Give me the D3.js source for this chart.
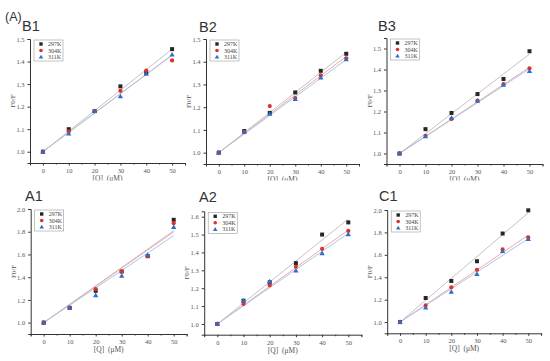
<!DOCTYPE html>
<html><head><meta charset="utf-8">
<script src="https://cdn.jsdelivr.net/npm/d3@7"></script>
<style>body{margin:0;background:#fff}svg{display:block}</style>
</head><body>
<svg id="c" width="550" height="361"></svg>
<script>
const concs = [0, 10, 20, 30, 40, 50];
const temps = ["297K", "304K", "311K"];
const xTicks = [0, 10, 20, 30, 40, 50];

const B1 = [[1.0,1.10,1.18,1.29,1.35,1.455],[1.0,1.09,1.18,1.27,1.36,1.405],[1.0,1.08,1.18,1.245,1.345,1.43]];
const B2 = [[1.0,1.095,1.175,1.265,1.36,1.435],[1.0,1.09,1.205,1.24,1.34,1.415],[1.0,1.09,1.17,1.235,1.33,1.41]];
const B3 = [[1.0,1.116,1.193,1.283,1.355,1.487],[1.0,1.084,1.164,1.252,1.33,1.406],[1.0,1.081,1.169,1.25,1.327,1.392]];
const A1 = [[1.0,1.13,1.28,1.45,1.585,1.905],[1.0,1.13,1.295,1.45,1.585,1.875],[1.0,1.13,1.24,1.41,1.595,1.84]];
const A2 = [[1.0,1.13,1.233,1.34,1.50,1.568],[1.0,1.112,1.216,1.32,1.42,1.52],[1.0,1.13,1.238,1.298,1.395,1.50]];
const C1 = [[1.0,1.215,1.367,1.543,1.79,1.997],[1.0,1.149,1.31,1.466,1.648,1.755],[1.0,1.128,1.269,1.427,1.633,1.74]];

const yTicksB = [1.0,1.1,1.2,1.3,1.4,1.5];
const yTicksA1 = [1.0,1.2,1.4,1.6,1.8,2.0];
const yTicksA2 = [1.0,1.1,1.2,1.3,1.4,1.5,1.6];

const panels = [
  {name:"B1", data:B1, yd:[0.95,1.5], yt:yTicksB, xr:[30,185], yr:[163,39], title:[22,31]},
  {name:"B2", data:B2, yd:[0.95,1.5], yt:yTicksB, xr:[206,359], yr:[164,39], title:[199,32]},
  {name:"B3", data:B3, yd:[0.95,1.55], yt:yTicksB, xr:[386.5,542.5], yr:[164,38], title:[378,31]},
  {name:"A1", data:A1, yd:[0.9,2.0], yt:yTicksA1, xr:[30.7,186.7], yr:[334,209], title:[25,201]},
  {name:"A2", data:A2, yd:[0.94,1.63], yt:yTicksA2, xr:[204.2,361.4], yr:[334.7,211.3], title:[199,202]},
  {name:"C1", data:C1, yd:[0.9,2.0], yt:yTicksA1, xr:[387.2,541.1], yr:[333.3,210], title:[379,201]}
];

const mColor = ["#262626","#e0302c","#2a6fc9"];
const lColor = ["#c4c4c4","#f2a8a8","#a9c6ec"];
const serif = "'Liberation Serif','DejaVu Serif',serif";
const sans = "'Liberation Sans','DejaVu Sans',sans-serif";

const svg = d3.select("#c");

function drawPanel(p, i){
  const g = svg.append("g");
  const x = d3.scaleLinear().domain([-5,55]).range(p.xr);
  const y = d3.scaleLinear().domain(p.yd).range(p.yr);

  // fit lines (Stern-Volmer, through 1 at 0)
  p.data.forEach((s, k) => {
    const num = d3.sum(concs, (c,j) => c*(s[j]-1));
    const den = d3.sum(concs, c => c*c);
    const K = num/den;
    g.append("line")
      .attr("x1", x(0)).attr("y1", y(1))
      .attr("x2", x(50)).attr("y2", y(1+K*50))
      .attr("stroke", lColor[k]).attr("stroke-width", 1);
  });

  // axes
  const xa = g.append("g").attr("transform", `translate(0,${p.yr[0]})`)
    .call(d3.axisBottom(x).tickValues(xTicks).tickSize(2.5).tickPadding(3).tickFormat(d3.format("d")));
  g.append("g").attr("transform", `translate(0,${p.yr[0]})`)
    .call(d3.axisBottom(x).tickValues([-5,5,15,25,35,45,55]).tickSize(1.5).tickFormat(""))
    .call(a => a.select(".domain").remove());
  const ya = g.append("g").attr("transform", `translate(${p.xr[0]},0)`)
    .call(d3.axisLeft(y).tickValues(p.yt).tickSize(2.5).tickPadding(3).tickFormat(d3.format(".1f")));
  g.selectAll(".domain").attr("stroke","#333").attr("stroke-width",1);
  g.selectAll(".tick line").attr("stroke","#333");
  [xa, ya].forEach(a => a.selectAll("text").attr("font-family", serif).attr("font-size", 6.5).attr("fill","#555"));

  // markers
  p.data.forEach((s, k) => {
    const mg = g.append("g");
    s.forEach((v, j) => {
      const cx = x(concs[j]), cy = y(v);
      if (k === 0) mg.append("rect").attr("x", cx-2).attr("y", cy-2).attr("width",4).attr("height",4).attr("fill", mColor[0]);
      else if (k === 1) mg.append("circle").attr("cx", cx).attr("cy", cy).attr("r", 2.1).attr("fill", mColor[1]);
      else mg.append("path").attr("d", d3.symbol(d3.symbolTriangle, 12)()).attr("transform", `translate(${cx},${cy+0.3})`).attr("fill", mColor[2]);
    });
  });

  // legend
  const lx = p.xr[0]+4, ly = p.yr[1]+1;
  const lg = g.append("g").attr("transform", `translate(${lx},${ly})`);
  lg.append("rect").attr("width", 29).attr("height", 21).attr("fill","#fff").attr("stroke","#999").attr("stroke-width",0.6);
  temps.forEach((t, k) => {
    const yy = 4 + k*6.5;
    const mx = 7;
    if (k === 0) lg.append("rect").attr("x", mx-1.7).attr("y", yy-1.7).attr("width",3.4).attr("height",3.4).attr("fill", mColor[0]);
    else if (k === 1) lg.append("circle").attr("cx", mx).attr("cy", yy).attr("r", 1.8).attr("fill", mColor[1]);
    else lg.append("path").attr("d", d3.symbol(d3.symbolTriangle, 9)()).attr("transform", `translate(${mx},${yy+0.3})`).attr("fill", mColor[2]);
    lg.append("text").attr("x", 14).attr("y", yy+2).text(t)
      .attr("font-family", serif).attr("font-size", 6).attr("fill","#444");
  });

  // axis labels
  g.append("text").attr("transform", `translate(${p.xr[0]-15},${(p.yr[0]+p.yr[1])/2}) rotate(-90)`)
    .attr("text-anchor","middle").attr("font-family", serif).attr("font-size", 7).attr("fill","#555").text("F0/F");
  g.append("text").attr("x", (x(0)+x(50))/2).attr("y", p.yr[0]+18)
    .attr("text-anchor","middle").attr("font-family", serif).attr("font-size", 7.5).attr("fill","#555")
    .text("[Q]\u00a0\u00a0(μM)");

  // title
  g.append("text").attr("x", p.title[0]).attr("y", p.title[1]).attr("font-family", sans)
    .attr("font-size", 14.5).attr("fill","#333").text(p.name);
}

panels.slice(0,3).forEach(drawPanel);
svg.append("rect").attr("x",0).attr("y",180.5).attr("width",550).attr("height",181).attr("fill","#fff");
panels.slice(3).forEach(drawPanel);

svg.append("text").attr("x", 5).attr("y", 21).attr("font-family", sans).attr("font-size", 12.5).attr("fill","#333").text("(A)");
</script>
</body></html>
